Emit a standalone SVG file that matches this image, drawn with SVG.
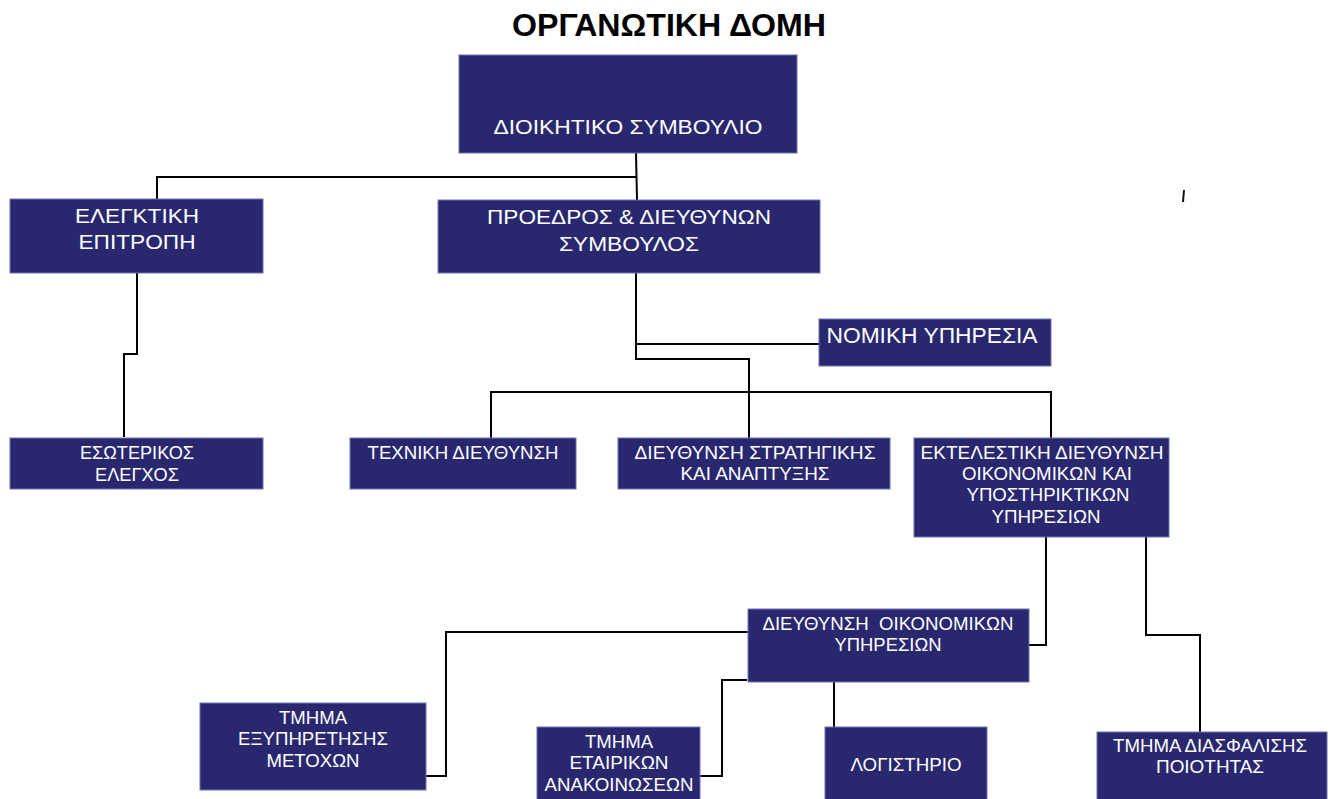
<svg xmlns="http://www.w3.org/2000/svg" width="1333" height="799" viewBox="0 0 1333 799">
<style>
.box{fill:#29286F;stroke:#6f70b3;stroke-width:1}
.t{font-family:"Liberation Sans",Arial,sans-serif;fill:#ffffff;text-anchor:middle}
.s{font-size:17.5px}
.m{font-size:21px}
.title{font-family:"Liberation Sans",Arial,sans-serif;font-weight:bold;font-size:32px;fill:#000;text-anchor:middle}
.c{fill:none;stroke:#000;stroke-width:2}
</style>
<rect width="1333" height="799" fill="#fff"/>
<text class="title" x="669" y="36" textLength="314" lengthAdjust="spacingAndGlyphs">ΟΡΓΑΝΩΤΙΚΗ ΔΟΜΗ</text>

<g id="connectors">
<polyline class="c" points="636,153 637,200"/>
<polyline class="c" points="637,177 157,177 157,202 172,202 172,228"/>
<polyline class="c" points="137,273 137,354 124,354 124,437"/>
<polyline class="c" points="636,273 636,359 749,359 749,438"/>
<polyline class="c" points="636,344 832,344"/>
<polyline class="c" points="491,458 491,392 1051,392 1051,457"/>
<polyline class="c" points="1046,537 1046,645 1029,645"/>
<polyline class="c" points="1146,537 1146,635 1200,635 1200,732"/>
<polyline class="c" points="842,680 834,680 834,727"/>
<polyline class="c" points="747,680 722,680 722,776 700,776"/>
<polyline class="c" points="763,632 446,632 446,776 394,776"/>
<line x1="1184" y1="190" x2="1183" y2="202" stroke="#111" stroke-width="2"/>
</g>

<g id="n-dioikitiko">
<rect class="box" x="459" y="55" width="338" height="98"/>
<text class="t m" x="628" y="134" textLength="269" lengthAdjust="spacingAndGlyphs">ΔΙΟΙΚΗΤΙΚΟ ΣΥΜΒΟΥΛΙΟ</text>
</g>
<g id="n-elegktiki">
<rect class="box" x="10" y="199" width="253" height="74"/>
<text class="t m" x="137" y="223" textLength="124" lengthAdjust="spacingAndGlyphs">ΕΛΕΓΚΤΙΚΗ</text>
<text class="t m" x="137" y="249" textLength="117" lengthAdjust="spacingAndGlyphs">ΕΠΙΤΡΟΠΗ</text>
</g>
<g id="n-proedros">
<rect class="box" x="438" y="200" width="382" height="73"/>
<text class="t m" x="629" y="224" textLength="284" lengthAdjust="spacingAndGlyphs">ΠΡΟΕΔΡΟΣ &amp; ΔΙΕΥΘΥΝΩΝ</text>
<text class="t m" x="629" y="251" textLength="140" lengthAdjust="spacingAndGlyphs">ΣΥΜΒΟΥΛΟΣ</text>
</g>
<g id="n-nomiki">
<rect class="box" x="819" y="319" width="232" height="47"/>
<text class="t" style="font-size:22px" x="932" y="343" textLength="211" lengthAdjust="spacingAndGlyphs">ΝΟΜΙΚΗ ΥΠΗΡΕΣΙΑ</text>
</g>
<g id="n-esoterikos">
<rect class="box" x="10" y="438" width="253" height="51"/>
<text class="t s" x="137" y="459" textLength="114" lengthAdjust="spacingAndGlyphs">ΕΣΩΤΕΡΙΚΟΣ</text>
<text class="t s" x="137" y="481" textLength="84" lengthAdjust="spacingAndGlyphs">ΕΛΕΓΧΟΣ</text>
</g>
<g id="n-texniki">
<rect class="box" x="350" y="438" width="226" height="51"/>
<text class="t s" x="463" y="459" textLength="191" lengthAdjust="spacingAndGlyphs">ΤΕΧΝΙΚΗ ΔΙΕΥΘΥΝΣΗ</text>
</g>
<g id="n-stratigikis">
<rect class="box" x="618" y="438" width="272" height="51"/>
<text class="t s" x="755" y="459" textLength="241" lengthAdjust="spacingAndGlyphs">ΔΙΕΥΘΥΝΣΗ ΣΤΡΑΤΗΓΙΚΗΣ</text>
<text class="t s" x="755" y="480" textLength="149" lengthAdjust="spacingAndGlyphs">ΚΑΙ ΑΝΑΠΤΥΞΗΣ</text>
</g>
<g id="n-ektelestiki">
<rect class="box" x="914" y="438" width="255" height="99"/>
<text class="t s" x="1042" y="459" textLength="243" lengthAdjust="spacingAndGlyphs">ΕΚΤΕΛΕΣΤΙΚΗ ΔΙΕΥΘΥΝΣΗ</text>
<text class="t s" x="1047" y="480" textLength="170" lengthAdjust="spacingAndGlyphs">ΟΙΚΟΝΟΜΙΚΩΝ ΚΑΙ</text>
<text class="t s" x="1048" y="501" textLength="163" lengthAdjust="spacingAndGlyphs">ΥΠΟΣΤΗΡΙΚΤΙΚΩΝ</text>
<text class="t s" x="1046" y="523" textLength="109" lengthAdjust="spacingAndGlyphs">ΥΠΗΡΕΣΙΩΝ</text>
</g>
<g id="n-dieythynsi-oikonomikon">
<rect class="box" x="748" y="609" width="281" height="73"/>
<text class="t s" x="888" y="630" textLength="251" lengthAdjust="spacingAndGlyphs" xml:space="preserve">ΔΙΕΥΘΥΝΣΗ  ΟΙΚΟΝΟΜΙΚΩΝ</text>
<text class="t s" x="888" y="651" textLength="107" lengthAdjust="spacingAndGlyphs">ΥΠΗΡΕΣΙΩΝ</text>
</g>
<g id="n-metoxon">
<rect class="box" x="200" y="703" width="226" height="87"/>
<text class="t s" x="313" y="724" textLength="68" lengthAdjust="spacingAndGlyphs">ΤΜΗΜΑ</text>
<text class="t s" x="313" y="745" textLength="150" lengthAdjust="spacingAndGlyphs">ΕΞΥΠΗΡΕΤΗΣΗΣ</text>
<text class="t s" x="313" y="767" textLength="93" lengthAdjust="spacingAndGlyphs">ΜΕΤΟΧΩΝ</text>
</g>
<g id="n-anakoinoseon">
<rect class="box" x="537" y="727" width="163" height="76"/>
<text class="t s" x="619" y="748" textLength="68" lengthAdjust="spacingAndGlyphs">ΤΜΗΜΑ</text>
<text class="t s" x="619" y="769" textLength="99" lengthAdjust="spacingAndGlyphs">ΕΤΑΙΡΙΚΩΝ</text>
<text class="t s" x="619" y="791" textLength="149" lengthAdjust="spacingAndGlyphs">ΑΝΑΚΟΙΝΩΣΕΩΝ</text>
</g>
<g id="n-logistirio">
<rect class="box" x="825" y="727" width="162" height="76"/>
<text class="t s" x="906" y="771" textLength="111" lengthAdjust="spacingAndGlyphs">ΛΟΓΙΣΤΗΡΙΟ</text>
</g>
<g id="n-poiotitas">
<rect class="box" x="1097" y="732" width="230" height="71"/>
<text class="t s" x="1210" y="752" textLength="194" lengthAdjust="spacingAndGlyphs">ΤΜΗΜΑ ΔΙΑΣΦΑΛΙΣΗΣ</text>
<text class="t s" x="1210" y="773" textLength="108" lengthAdjust="spacingAndGlyphs">ΠΟΙΟΤΗΤΑΣ</text>
</g>
</svg>
